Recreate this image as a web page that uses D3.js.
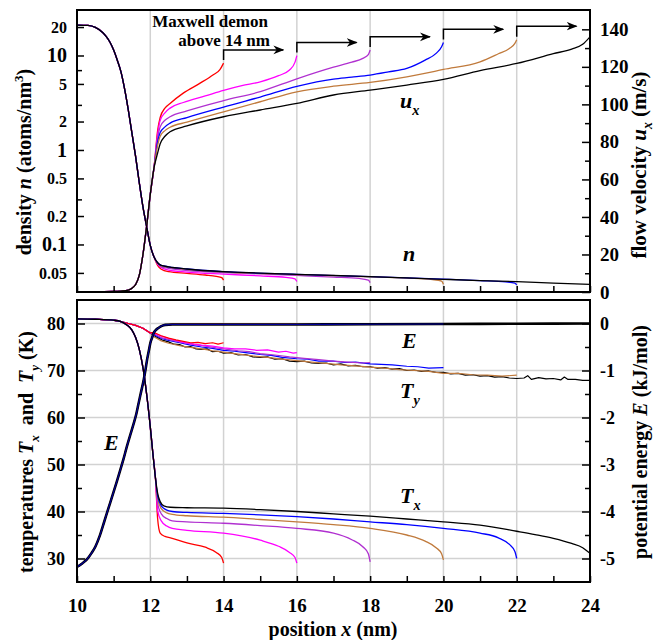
<!DOCTYPE html>
<html>
<head>
<meta charset="utf-8">
<script src="https://cdn.jsdelivr.net/npm/d3@7"></script>
<style>
  body { margin: 0; background: #fff; }
  svg { display: block; font-family: "Liberation Serif", "Times New Roman", serif; font-weight: bold; }
</style>
</head>
<body>
<div id="chart"></div>
<script>
// demon positions of the six runs (nm) and the colours used per quantity
const runEnds = [14, 16, 18, 20, 22, 24];
const colorsUy = ["#ff0000", "#ff00ff", "#b030d0", "#0000ff", "#c07a3c", "#000000"]; // u_x and T_y
const colorsNx = ["#ff0000", "#ff00ff", "#b030d0", "#c07a3c", "#0000ff", "#000000"]; // n and T_x

// ---- density n (atoms/nm^3), shared liquid part then one tail per run
const nHead = [[10,21],[10.3,20.8],[10.5,19.8],[10.7,17.5],[10.8,15.8],[10.9,13.8],[11.0,11.4],[11.1,8.9],
  [11.2,6.7],[11.3,4.4],[11.4,2.65],[11.5,1.5],[11.6,0.85],[11.7,0.45],[11.8,0.25],[11.9,0.155],[12.0,0.098],[12.1,0.074]];
const n14 = [[12.2,0.06],[12.3,0.0546],[12.5,0.0515],[13,0.0495],[13.5,0.0475],[13.8,0.046],[13.95,0.0445],[14,0.042]];
const n16 = [[12.2,0.062],[12.3,0.057],[12.5,0.0535],[13,0.051],[14,0.0485],[15,0.0465],[15.7,0.0448],[15.95,0.0432],[16,0.0405]];
const n18 = [[12.2,0.063],[12.3,0.058],[12.5,0.056],[13,0.053],[14,0.0505],[15,0.0488],[16,0.047],[17,0.0452],[17.7,0.0437],[17.95,0.042],[18,0.0395]];
const n20 = [[12.2,0.064],[12.3,0.0595],[12.5,0.0575],[13,0.0545],[14,0.051],[16,0.048],[18,0.0455],[19,0.044],[19.7,0.0425],[19.95,0.041],[20,0.038]];
const n22 = [[12.2,0.064],[12.3,0.06],[12.5,0.058],[13,0.055],[14,0.0515],[16,0.0483],[18,0.0457],[20,0.043],[21,0.0415],[21.7,0.0402],[21.95,0.039],[22,0.0373]];
const n24 = [[12.2,0.064],[12.3,0.06],[12.5,0.058],[13,0.055],[14,0.0515],[15,0.0498],[16,0.0483],[17,0.047],[18,0.0457],[19,0.0442],
  [20,0.0428],[21,0.0415],[22,0.0404],[23,0.039],[24,0.0378]];

// ---- flow velocity u_x (m/s)
const uHead = [[10,0.2],[10.5,0.2],[11,0.3],[11.2,0.5],[11.4,1],[11.5,2],[11.6,4],[11.7,9],[11.8,20],[11.9,35],[12.0,52],[12.1,66]];
const u14 = [[12.2,86],[12.27,93],[12.4,98],[12.54,100.5],[12.9,106],[13.36,111.3],[13.72,115.8],[13.9,118.5],[14,122]];
const u16 = [[12.2,84],[12.27,91.5],[12.4,95.5],[12.54,98],[12.9,101],[13.5,104.5],[14,107.5],[14.5,110],[15,112],[15.5,115.3],[15.8,118.3],[15.95,122.5],[16,126]];
const u18 = [[12.2,82],[12.27,88],[12.4,91.5],[12.54,93.4],[13,96.5],[14,102],[15,106.8],[16,113.6],[17,119.8],[17.5,122.5],[17.8,124.5],[17.95,126.5],[18,129]];
const u20 = [[12.2,80],[12.27,85],[12.4,88],[12.54,90],[13,93],[14,98.6],[15,103.9],[16,109.6],[17,113.5],[17.5,114.5],[18,115.6],
  [18.5,117.3],[19,119.2],[19.5,123.6],[19.8,127.2],[19.95,130.7],[20,133]];
const u22 = [[12.2,78],[12.27,83],[12.4,86],[12.54,87.8],[13,90.5],[14,96],[15,101.4],[16,106.7],[17,109.7],[18,111.7],[19,114.7],
  [20,118.6],[21,122.7],[21.5,127],[21.8,129.8],[21.95,132.5],[22,134.5]];
const u24 = [[12.2,74],[12.27,79],[12.4,83],[12.54,85.4],[13,88.5],[14,93.4],[15,97],[16,100.5],[17,105],[18,107.6],[19,110.3],
  [20,113.3],[21,118],[22,121.8],[23,127],[23.5,129.5],[23.8,132],[24,136]];

// demon arrows: start position, height (m/s), length (nm)
const arrowX = [14, 16, 18, 20, 22];
const arrowU = [129, 133, 136, 140, 141.7];
const arrowLen = 1.63;

// ---- temperatures (K)
const tHead = [[10,81.0],[10.5,80.9],[11,80.7],[11.2,80.4]];
const txFall = [[11.36,79.7],[11.5,78.6],[11.6,77.0],[11.7,74.5],[11.8,70.6],[11.9,65.0],[12.0,58.0],[12.07,52.4],[12.14,47.2]];
const tx14 = [[12.2,38.5],[12.27,35.4],[12.4,34.7],[12.55,34.4],[13,33.3],[13.5,32.4],[13.8,31.3],[13.95,30.2],[14,29.0]];
const tx16 = [[12.2,40.2],[12.3,38.0],[12.45,36.9],[12.6,36.4],[13,36.0],[14,35.4],[15,33.9],[15.5,32.6],[15.8,31.3],[15.95,30.2],[16,29.0]];
const tx18 = [[12.2,41.8],[12.3,39.5],[12.45,38.5],[12.6,38.0],[13,37.8],[14,37.5],[15,37.0],[16,36.4],[17,35.4],[17.5,34.0],[17.8,32.5],[17.95,31.0],[18,29.3]];
const tx20 = [[12.2,42.8],[12.3,40.6],[12.45,39.7],[12.6,39.4],[13,39.1],[14,38.8],[15,38.3],[16,37.8],[17,37.2],[18,36.4],[19,35.0],
  [19.5,33.7],[19.8,32.3],[19.95,31.0],[20,29.7]];
const tx22 = [[12.2,43.3],[12.3,41.2],[12.45,40.3],[12.6,40.0],[13,39.8],[14,39.6],[15,39.3],[16,38.9],[17,38.4],[18,37.8],[19,37.2],
  [20,36.4],[21,35.4],[21.5,34.4],[21.8,33.0],[21.95,31.5],[22,30.0]];
const tx24 = [[12.2,43.9],[12.27,42.1],[12.37,41.2],[12.55,40.9],[13,40.8],[14,40.7],[15,40.4],[16,40.0],[17,39.5],[18,39.0],[19,38.4],
  [20,37.8],[21,37.1],[22,35.8],[22.5,35.1],[23,34.3],[23.5,33.2],[23.8,32.3],[24,31.1]];

const tyHead = [[11.4,80.0],[11.6,79.6],[11.8,79.0],[12.0,78.0]];
const ty14 = [[12.1,78.1],[12.3,77.4],[12.5,76.9],[12.7,76.5],[12.9,76.2],[13.1,75.9],[13.3,76.0],[13.5,75.7],[13.7,75.9],[13.85,75.6],[14.0,75.9]];
const ty16 = [[12.1,78.0],[12.3,77.3],[12.6,76.6],[12.9,76.0],[13.2,75.6],[13.4,75.4],[13.7,75.2],[14.0,74.8],[14.3,74.6],[14.6,74.6],
  [14.9,74.3],[15.2,74.4],[15.5,73.9],[15.7,74.1],[15.9,73.7],[16.0,73.8]];
const ty18 = [[12.1,77.8],[12.3,77.0],[12.6,76.4],[12.9,75.9],[13.2,75.5],[13.5,75.2],[13.8,74.8],[14.1,74.5],[14.4,74.2],[14.7,74.0],
  [15.0,73.6],[15.4,73.3],[15.8,72.9],[16.2,72.6],[16.6,72.3],[17.0,72.0],[17.4,71.8],[17.8,71.6],[18.0,71.7]];
const ty20 = [[12.1,77.6],[12.3,76.8],[12.5,76.4],[12.8,75.9],[13.1,75.4],[13.4,75.0],[13.7,74.7],[14.0,74.3],[14.3,74.1],[14.6,73.8],
  [15.0,73.4],[15.3,73.2],[15.6,72.8],[16.0,72.5],[16.3,72.4],[16.6,72.0],[17.0,72.0],[17.3,71.7],[17.6,71.8],[18.0,71.4],[18.3,71.3],
  [18.6,71.2],[19.0,70.9],[19.3,70.8],[19.6,70.5],[20.0,70.6]];
const ty22 = [[12.1,77.2],[12.3,76.3],[12.5,75.8],[12.8,75.3],[13.1,74.9],[13.4,74.6],[13.7,74.2],[14.0,73.9],[14.4,73.5],[14.8,73.1],
  [15.2,72.8],[15.6,72.4],[16.0,72.1],[16.4,71.8],[16.8,71.5],[17.2,71.2],[17.6,71.0],[18.0,70.7],[18.4,70.5],[18.8,70.2],[19.2,70.0],
  [19.6,69.8],[20.0,69.4],[20.4,69.4],[20.8,69.1],[21.2,69.0],[21.6,68.8],[22.0,69.0]];
const ty24 = [[12.1,77.4],[12.2,77.0],[12.35,76.4],[12.5,76.1],[12.65,75.6],[12.8,75.5],[12.95,75.0],[13.1,75.1],[13.25,74.6],[13.4,74.5],
  [13.55,74.6],[13.7,74.0],[13.85,74.1],[14.0,73.7],[14.2,73.8],[14.4,73.3],[14.6,73.4],[14.8,72.9],[15.0,72.8],[15.2,72.9],[15.4,72.4],
  [15.6,72.5],[15.8,72.0],[16.0,71.9],[16.2,72.0],[16.4,71.6],[16.6,71.5],[16.8,71.6],[17.0,71.2],[17.2,71.4],[17.4,71.0],[17.6,71.1],
  [17.8,70.8],[18.0,70.8],[18.2,70.5],[18.4,70.6],[18.6,70.3],[18.8,70.4],[19.0,70.0],[19.2,70.1],[19.4,69.8],[19.6,69.9],[19.8,69.6],
  [20.0,69.6],[20.2,69.3],[20.4,69.4],[20.6,69.0],[20.8,69.1],[21.0,68.8],[21.2,68.9],[21.4,68.6],[21.6,68.7],[21.8,68.4],[22.0,68.3],
  [22.2,68.4],[22.3,68.9],[22.4,68.1],[22.6,68.5],[22.8,68.2],[23.0,68.3],[23.2,68.0],[23.3,68.6],[23.4,68.1],[23.6,68.1],[23.8,67.9],[24.0,67.9]];

// ---- potential energy E (kJ/mol)
const eCurve = [[10,-5.18],[10.15,-5.1],[10.27,-5.02],[10.4,-4.88],[10.5,-4.75],[10.62,-4.52],[10.73,-4.25],[10.85,-3.95],[10.96,-3.68],
  [11.08,-3.38],[11.18,-3.12],[11.27,-2.88],[11.36,-2.62],[11.45,-2.38],[11.55,-2.12],[11.62,-1.92],[11.68,-1.7],[11.75,-1.45],
  [11.82,-1.2],[11.87,-0.98],[11.91,-0.78],[11.96,-0.58],[12.0,-0.42],[12.05,-0.3],[12.09,-0.21],[12.15,-0.14],[12.23,-0.09],
  [12.32,-0.05],[12.41,-0.03],[12.6,-0.02],[13,-0.02],[14,-0.02],[16,-0.02],[18,-0.015],[20,-0.01],[22,-0.005],[24,0]];

// ---- ticks
const xTicks = d3.range(10, 25, 1);
const xLabels = [10, 12, 14, 16, 18, 20, 22, 24];
const gridX = [12, 14, 16, 18, 20, 22];
const nTicks = [0.05, 0.1, 0.2, 0.5, 1, 2, 5, 10, 20];
const nMinor = [0.3, 3, 7];
const uTicks = [0, 20, 40, 60, 80, 100, 120, 140];
const uMinor = [10, 30, 50, 70, 90, 110, 130];
const tTicks = [30, 40, 50, 60, 70, 80];
const tMinor = [35, 45, 55, 65, 75];
const eTicks = [-5, -4, -3, -2, -1, 0];
const eMinor = [-4.5, -3.5, -2.5, -1.5, -0.5];

const width = 655, height = 640;
const serif = '"Liberation Serif", "Times New Roman", serif';

const x = d3.scaleLinear().domain([10, 24]).range([77, 590]);
const yN = d3.scaleLog().domain([0.0314, 30.3]).range([292, 10]);
const yU = d3.scaleLinear().domain([0, 150.3]).range([292, 10]);
const yT = d3.scaleLinear().domain([25, 85]).range([582, 300]);
const yE = d3.scaleLinear().domain([-5.5, 0.5]).range([582, 300]);

const svg = d3.select("#chart").append("svg")
    .attr("width", width)
    .attr("height", height)
    .attr("viewBox", [0, 0, width, height]);

const defs = svg.append("defs");
defs.append("clipPath").attr("id", "clip1").append("rect")
    .attr("x", x(10)).attr("y", yU(150.3)).attr("width", x(24) - x(10)).attr("height", yU(0) - yU(150.3));
defs.append("clipPath").attr("id", "clip2").append("rect")
    .attr("x", x(10)).attr("y", yT(85)).attr("width", x(24) - x(10)).attr("height", yT(25) - yT(85));
defs.append("marker")
    .attr("id", "head")
    .attr("viewBox", "0 0 10 10")
    .attr("refX", 9).attr("refY", 5)
    .attr("markerWidth", 11).attr("markerHeight", 11)
    .attr("markerUnits", "userSpaceOnUse")
    .attr("orient", "auto")
  .append("path")
    .attr("d", "M0,1 L10,5 L0,9 L3,5 Z")
    .attr("fill", "#000");

// grid
const grid = svg.append("g").attr("stroke", "#d2d2d2").attr("stroke-width", 1.5);
grid.selectAll(".gx1").data(gridX).join("line")
    .attr("x1", d => x(d)).attr("x2", d => x(d)).attr("y1", yU(150.3)).attr("y2", yU(0));
grid.selectAll(".gx2").data(gridX).join("line")
    .attr("x1", d => x(d)).attr("x2", d => x(d)).attr("y1", yT(85)).attr("y2", yT(25));
grid.selectAll(".gy2").data(tTicks).join("line")
    .attr("x1", x(10)).attr("x2", x(24)).attr("y1", d => yT(d)).attr("y2", d => yT(d));

function series(head, tails, colors) {
  return runEnds.map((end, i) => ({ end, color: colors[i], pts: head.concat(tails[i]) }));
}

function drawLines(g, data, y, curve, width) {
  const line = d3.line().x(p => x(p[0])).y(p => y(p[1])).curve(curve);
  g.selectAll(null)
    .data(data)
    .join("path")
      .attr("fill", "none")
      .attr("stroke", d => d.color)
      .attr("stroke-width", d => d.width || width)
      .attr("stroke-opacity", d => d.opacity || 1)
      .attr("stroke-linejoin", "round")
      .attr("d", d => line(d.pts));
}

// ---- top panel
const p1 = svg.append("g").attr("clip-path", "url(#clip1)");
drawLines(p1, series(nHead, [n14, n16, n18, n20, n22, n24], colorsNx), yN, d3.curveMonotoneX, 1.3);
drawLines(p1, series(uHead, [u14, u16, u18, u20, u22, u24], colorsUy), yU, d3.curveMonotoneX, 1.3);

// ---- bottom panel
const p2 = svg.append("g").attr("clip-path", "url(#clip2)");
const tyRuns = series(tHead.concat(tyHead), [ty14, ty16, ty18, ty20, ty22, ty24], colorsUy).reverse();
drawLines(p2, tyRuns, yT, d3.curveLinear, 1.2);
drawLines(p2, series(tHead.concat(txFall), [tx14, tx16, tx18, tx20, tx22, tx24], colorsNx), yT, d3.curveMonotoneX, 1.3);
const eOrder = [0, 1, 2, 4, 5, 3]; // blue drawn last over a wide black
const eRuns = eOrder.map(i => ({
  color: colorsUy[i],
  width: i === 5 ? 2.6 : i === 3 ? 1.1 : 1.3,
  opacity: i === 3 ? 0.6 : 1,
  pts: eCurve.filter(p => p[0] <= runEnds[i])
}));
drawLines(p2, eRuns, yE, d3.curveMonotoneX, 1.3);

// demon arrows
const uTailEnds = [u14, u16, u18, u20, u22].map(t => t[t.length - 1][1]);
svg.append("g")
  .selectAll("path")
  .data(arrowX)
  .join("path")
    .attr("fill", "none")
    .attr("stroke", "#000")
    .attr("stroke-width", 1.5)
    .attr("marker-end", "url(#head)")
    .attr("d", (d, i) => `M${x(d)},${yU(uTailEnds[i]) - 3}V${yU(arrowU[i])}H${x(d + arrowLen)}`);

// frames
svg.append("g")
    .attr("fill", "none").attr("stroke", "#000").attr("stroke-width", 2)
  .selectAll("rect")
  .data([[yU(150.3), yU(0)], [yT(85), yT(25)]])
  .join("rect")
    .attr("x", x(10)).attr("y", d => d[0])
    .attr("width", x(24) - x(10)).attr("height", d => d[1] - d[0]);

function styleAxis(g, size) {
  g.attr("font-family", serif).attr("font-size", size).attr("font-weight", "bold");
  g.select(".domain").remove();
  g.selectAll(".tick line").attr("stroke-width", 1.5);
  g.selectAll(".tick text").attr("fill", "#000");
}

// x axes (ticks inward)
svg.append("g")
    .attr("transform", `translate(0,${yU(0)})`)
    .call(d3.axisBottom(x).tickValues(xTicks).tickSizeInner(-6).tickSizeOuter(0).tickFormat(""))
    .call(g => styleAxis(g, 19));
svg.append("g")
    .attr("transform", `translate(0,${yT(25)})`)
    .call(d3.axisBottom(x).tickValues(xTicks).tickSizeInner(-6).tickSizeOuter(0).tickPadding(17)
      .tickFormat(d => xLabels.includes(d) ? d : ""))
    .call(g => styleAxis(g, 19));

// top-left log density axis
svg.append("g")
    .attr("transform", `translate(${x(10)},0)`)
    .call(d3.axisLeft(yN).tickValues(nTicks).tickSizeInner(-7).tickSizeOuter(0).tickPadding(10).tickFormat(d => d))
    .call(g => styleAxis(g, 16))
    .call(g => g.selectAll(".tick text").attr("font-size", d => [0.1, 1, 10].includes(d) ? 20 : 16));
svg.append("g")
    .attr("transform", `translate(${x(10)},0)`)
    .call(d3.axisLeft(yN).tickValues(nMinor).tickSizeInner(-5).tickSizeOuter(0).tickFormat(""))
    .call(g => styleAxis(g, 16));

// top-right velocity axis
svg.append("g")
    .attr("transform", `translate(${x(24)},0)`)
    .call(d3.axisRight(yU).tickValues(uTicks).tickSizeInner(-8).tickSizeOuter(0).tickPadding(10))
    .call(g => styleAxis(g, 19));
svg.append("g")
    .attr("transform", `translate(${x(24)},0)`)
    .call(d3.axisRight(yU).tickValues(uMinor).tickSizeInner(-5).tickSizeOuter(0).tickFormat(""))
    .call(g => styleAxis(g, 19));

// bottom-left temperature axis
svg.append("g")
    .attr("transform", `translate(${x(10)},0)`)
    .call(d3.axisLeft(yT).tickValues(tTicks).tickSizeInner(-8).tickSizeOuter(0).tickPadding(12))
    .call(g => styleAxis(g, 18));
svg.append("g")
    .attr("transform", `translate(${x(10)},0)`)
    .call(d3.axisLeft(yT).tickValues(tMinor).tickSizeInner(-5).tickSizeOuter(0).tickFormat(""))
    .call(g => styleAxis(g, 18));

// bottom-right energy axis
svg.append("g")
    .attr("transform", `translate(${x(24)},0)`)
    .call(d3.axisRight(yE).tickValues(eTicks).tickSizeInner(-8).tickSizeOuter(0).tickPadding(10).tickFormat(d => d))
    .call(g => styleAxis(g, 18));
svg.append("g")
    .attr("transform", `translate(${x(24)},0)`)
    .call(d3.axisRight(yE).tickValues(eMinor).tickSizeInner(-5).tickSizeOuter(0).tickFormat(""))
    .call(g => styleAxis(g, 18));

// text helper: parts = [text, italic?, "sub"|"sup"|null]
function richText(g, parts, size) {
  const t = g.append("text").attr("font-size", size).attr("fill", "#000");
  let shift = 0;
  parts.forEach(([s, it, pos]) => {
    const target = pos === "sub" ? size * 0.3 : pos === "sup" ? -size * 0.38 : 0;
    t.append("tspan")
      .attr("dy", target - shift)
      .attr("font-style", it ? "italic" : "normal")
      .attr("font-size", pos ? size * 0.65 : size)
      .text(s);
    shift = target;
  });
  return t;
}

const labels = svg.append("g").attr("font-family", serif).attr("font-weight", "bold");

richText(labels.append("g").attr("transform", "translate(31,162) rotate(-90)"),
  [["density ", false], ["n", true], [" (atoms/nm", false], ["3", false, "sup"], [")", false]], 20)
  .attr("text-anchor", "middle");
richText(labels.append("g").attr("transform", "translate(646,165) rotate(-90)"),
  [["flow velocity ", false], ["u", true], ["x", true, "sub"], [" (m/s)", false]], 21)
  .attr("text-anchor", "middle");
richText(labels.append("g").attr("transform", "translate(33,452) rotate(-90)"),
  [["temperatures ", false], ["T", true], ["x", true, "sub"], ["  and  ", false], ["T", true], ["y", true, "sub"], [" (K)", false]], 20)
  .attr("text-anchor", "middle").attr("xml:space", "preserve");
richText(labels.append("g").attr("transform", "translate(647,442) rotate(-90)"),
  [["potential energy ", false], ["E", true], [" (kJ/mol)", false]], 20)
  .attr("text-anchor", "middle");
richText(labels.append("g").attr("transform", "translate(333,636)"),
  [["position ", false], ["x", true], [" (nm)", false]], 20)
  .attr("text-anchor", "middle");

// in-plot labels
richText(labels.append("g").attr("transform", "translate(400,108)"), [["u", true], ["x", true, "sub"]], 22);
richText(labels.append("g").attr("transform", "translate(403,261)"), [["n", true]], 22);
richText(labels.append("g").attr("transform", "translate(402,348)"), [["E", true]], 22);
richText(labels.append("g").attr("transform", "translate(400,398)"), [["T", true], ["y", true, "sub"]], 22);
richText(labels.append("g").attr("transform", "translate(400,503)"), [["T", true], ["x", true, "sub"]], 22);
richText(labels.append("g").attr("transform", "translate(104,450)"), [["E", true]], 22);

labels.append("text").attr("x", 210).attr("y", 27).attr("text-anchor", "middle").attr("font-size", 17)
    .text("Maxwell demon");
labels.append("text").attr("x", 224).attr("y", 46).attr("text-anchor", "middle").attr("font-size", 17)
    .text("above 14 nm");
</script>
</body>
</html>
